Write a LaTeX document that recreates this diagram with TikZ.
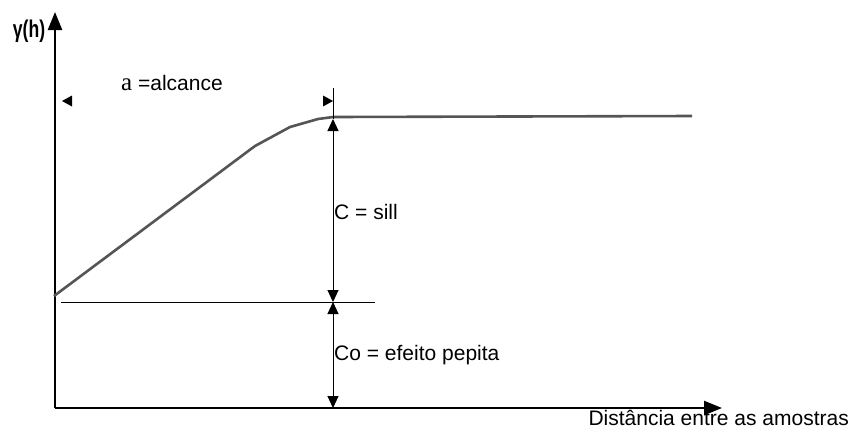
\documentclass[tikz,border=0pt]{standalone}
\usepackage{fontspec}
\setmainfont{Liberation Sans}
\newfontfamily\serifa{Liberation Serif}
\usetikzlibrary{arrows.meta}
\definecolor{curvegray}{HTML}{555555}
\tikzset{
  axisline/.style={line width=2.4pt, -{Triangle[length=18pt,width=14pt]}},
  thinline/.style={line width=1pt, black},
  dimline/.style={line width=1pt, black, {Triangle[length=12pt,width=11pt]}-{Triangle[length=12pt,width=11pt]}},
  curveline/.style={line width=2.6pt, curvegray, line join=round},
  lbl/.style={font=\fontsize{21}{25}\selectfont, inner sep=0pt},
  tipmark/.style={fill=black, draw=none}
}
\begin{document}
\begin{tikzpicture}[x=1pt,y=-1pt]
\useasboundingbox (0,0) rectangle (853,432);
% coordinates
\coordinate (O) at (55,408);
\coordinate (Ytip) at (55,12);
\coordinate (Xtip) at (722,408);
\coordinate (C0) at (54,296);
\coordinate (C1) at (255,146);
\coordinate (C1b) at (290,127);
\coordinate (C1c) at (318,119);
\coordinate (C2) at (333,117);
\coordinate (C3) at (692,116);
\coordinate (Ntop) at (333,88);
\coordinate (Nsill) at (333,119);
\coordinate (Nmid) at (333,302);
\coordinate (Nbot) at (333,408);
\coordinate (Hl) at (61,302);
\coordinate (Hr) at (375,302);
\coordinate (Al) at (62,101);
\coordinate (Ar) at (333,101);
% axes
\draw[axisline] (O) -- (Ytip);
\draw[axisline] (O) -- (Xtip);
% curve
\draw[curveline] (C0) -- (C1) -- (C1b) -- (C1c) -- (C2) -- (C3);
% nugget line
\draw[thinline] (Hl) -- (Hr);
% vertical dimension line
\draw[thinline] (Ntop) -- (Nsill);
\draw[dimline] (Nsill) -- (Nmid);
\draw[dimline] (Nmid) -- (Nbot);
% alcance markers
\fill[tipmark] (Al) -- ++(10,-5.5) -- ++(0,11) -- cycle;
\fill[tipmark] (Ar) -- ++(-10,-5.5) -- ++(0,11) -- cycle;
% labels
\node[inner sep=0pt, anchor=center] (gh) at (29,31) {\fontsize{22}{26}\selectfont\bfseries\scalebox{0.8}[1.1]{γ(h)}};
\node[lbl, anchor=base west] (alc) at (121,90) {{\serifa\fontsize{25}{26}\selectfont a} =alcance};
\node[lbl, anchor=base west] (sill) at (334,219) {C = sill};
\node[lbl, anchor=base west] (pep) at (334,360) {Co = efeito pepita};
\node[lbl, anchor=base east] (dist) at (849,425) {Distância entre as amostras};
\end{tikzpicture}
\end{document}
